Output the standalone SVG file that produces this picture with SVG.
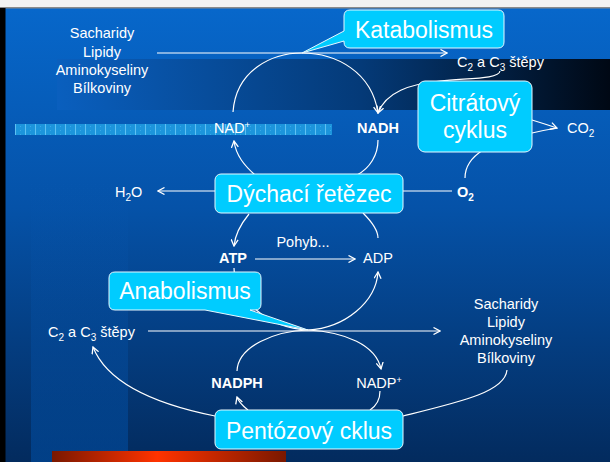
<svg xmlns="http://www.w3.org/2000/svg" width="610" height="462" viewBox="0 0 610 462">
<defs>
<linearGradient id="bg" x1="0" y1="0" x2="0" y2="1">
<stop offset="0" stop-color="#0768cc"/>
<stop offset="0.45" stop-color="#0552a8"/>
<stop offset="1" stop-color="#032b5e"/>
</linearGradient>
<linearGradient id="band" x1="0" y1="0" x2="1" y2="0">
<stop offset="0" stop-color="#0a5fbe"/>
<stop offset="0.55" stop-color="#043a78"/>
<stop offset="1" stop-color="#000814"/>
</linearGradient>
<linearGradient id="col" x1="0" y1="0" x2="0" y2="1">
<stop offset="0" stop-color="#0a5cb8" stop-opacity="0"/>
<stop offset="1" stop-color="#0050a8" stop-opacity="0.55"/>
</linearGradient>
<linearGradient id="red" x1="0" y1="0" x2="1" y2="0">
<stop offset="0" stop-color="#7a1800"/>
<stop offset="0.45" stop-color="#ff3300"/>
<stop offset="1" stop-color="#7a1800"/>
</linearGradient>
<pattern id="chk" x="15" y="0" width="10" height="4" patternUnits="userSpaceOnUse">
<rect width="10" height="4" fill="#1c95dc"/>
<rect width="1" height="4" fill="#5ec0f2"/>
<rect x="5" y="2" width="1" height="1" fill="#3aa8e8"/>
</pattern>
<marker id="ah" viewBox="0 0 8 8" refX="7" refY="4" markerWidth="8" markerHeight="8" markerUnits="userSpaceOnUse" orient="auto">
<path d="M0.5,0.5 L7,4 L0.5,7.5" fill="none" stroke="#ffffff" stroke-width="1.3"/>
</marker>
</defs>
<style>
.t{font-family:"Liberation Sans",Arial,sans-serif;fill:#ffffff;font-size:14.5px}
.b{font-weight:bold}
.m{text-anchor:middle}
.big{font-family:"Liberation Sans",Arial,sans-serif;fill:#ffffff;font-size:23px;text-anchor:middle}
.box{fill:#00ccff;stroke:#e6f8ff;stroke-width:1}
.c{fill:none;stroke:#ffffff;stroke-width:1.2}
.a{marker-end:url(#ah)}
</style>
<g id="background">
<rect x="0" y="0" width="610" height="462" fill="url(#bg)"/>
<rect x="31" y="180" width="97" height="282" fill="url(#col)"/>
<rect x="57" y="59" width="553" height="51" fill="url(#band)"/>
<rect x="15" y="124" width="317" height="11" fill="url(#chk)"/>
<rect x="52" y="451" width="234" height="11" fill="url(#red)"/>
<rect x="0" y="0" width="610" height="7" fill="#f2f2f2"/>
<rect x="0" y="7" width="610" height="1.5" fill="#8a8a8a"/>
<rect x="0" y="8" width="5.5" height="454" fill="#000000"/>
</g>
<g id="connectors">
<path class="c a" d="M157,53 H447"/>
<path class="c a" d="M233,112 C236,70 272,53 302,53 C336,53 372,72 378,113"/>
<path class="c a" d="M500,71 C499,79 470,78 440,81 C410,84 386,92 378,113"/>
<path class="c a" d="M532,120 Q545,124 557,128"/>
<path class="c" d="M532,133 Q545,130 557,128"/>
<path class="c" d="M378,140 C378,155 370,168 357,175"/>
<path class="c a" d="M255,175 C245,166 236,156 234,141"/>
<path class="c a" d="M215,191 H158"/>
<path class="c" d="M452,191 H403"/>
<path class="c" d="M465,178 C465,166 472,157 483,150"/>
<path class="c a" d="M249,214 C240,225 235,235 234,246"/>
<path class="c" d="M363,213 C372,222 378,230 378,238"/>
<path class="c a" d="M255,259 H355"/>
<path class="c" d="M234,268 C234,296 265,328 308,330"/>
<path class="c a" d="M308,330 C345,328 376,302 378,272"/>
<path class="c a" d="M148,331 H440"/>
<path class="c" d="M237,371 C238,346 275,331 308,330"/>
<path class="c a" d="M308,330 C345,332 376,345 381,369"/>
<path class="c a" d="M248,410 C243,406 239,403 237,397"/>
<path class="c" d="M380,391 C380,400 376,406 370,410"/>
<path class="c a" d="M215,416 C160,405 108,385 93,347"/>
<path class="c" d="M403,416 C460,402 505,392 507,370"/>
</g>
<g id="inputs-top">
<text class="t m" x="102" y="38">Sacharidy</text>
<text class="t m" x="102" y="56.5">Lipidy</text>
<text class="t m" x="102" y="75">Aminokyseliny</text>
<text class="t m" x="102" y="93">Bílkoviny</text>
</g>
<g id="c2c3-top"><text class="t" x="457" y="67">C<tspan font-size="10" dy="4">2</tspan><tspan dy="-4"> a C</tspan><tspan font-size="10" dy="4">3</tspan><tspan dy="-4"> štěpy</tspan></text></g>
<g id="nadplus"><text class="t m" x="232" y="133">NAD<tspan font-size="9" dy="-5">+</tspan></text></g>
<g id="nadh"><text class="t b m" x="378" y="133">NADH</text></g>
<g id="co2"><text class="t" x="567" y="133">CO<tspan font-size="10" dy="4">2</tspan></text></g>
<g id="h2o"><text class="t" x="115" y="197">H<tspan font-size="10" dy="4">2</tspan><tspan dy="-4">O</tspan></text></g>
<g id="o2"><text class="t b" x="457" y="197">O<tspan font-size="10" dy="4">2</tspan></text></g>
<g id="atp"><text class="t b m" x="233" y="263">ATP</text></g>
<g id="adp"><text class="t m" x="378" y="263">ADP</text></g>
<g id="pohyb"><text class="t m" x="303" y="247">Pohyb...</text></g>
<g id="c2c3-left"><text class="t" x="48" y="337">C<tspan font-size="10" dy="4">2</tspan><tspan dy="-4"> a C</tspan><tspan font-size="10" dy="4">3</tspan><tspan dy="-4"> štěpy</tspan></text></g>
<g id="outputs-right">
<text class="t m" x="506" y="309">Sacharidy</text>
<text class="t m" x="506" y="327">Lipidy</text>
<text class="t m" x="506" y="345">Aminokyseliny</text>
<text class="t m" x="506" y="363">Bílkoviny</text>
</g>
<g id="nadph"><text class="t b m" x="237" y="388">NADPH</text></g>
<g id="nadpplus"><text class="t m" x="379" y="388">NADP<tspan font-size="9" dy="-5">+</tspan></text></g>
<g id="katabolismus">
<path class="box" d="M350,10 H498 Q504,10 504,16 V42 Q504,48 498,48 H350 Q344,48 344,42 V41 L302,53 L344,31 V16 Q344,10 350,10 Z"/>
<text class="big" x="424" y="37.5">Katabolismus</text>
</g>
<g id="citratovy-cyklus">
<rect class="box" x="418" y="81" width="114" height="71" rx="7"/>
<text class="big" x="475" y="110.5">Citrátový</text>
<text class="big" x="475" y="138">cyklus</text>
</g>
<g id="dychaci-retezec">
<rect class="box" x="215" y="174" width="188" height="39" rx="6"/>
<text class="big" x="309" y="202">Dýchací řetězec</text>
</g>
<g id="anabolismus">
<path class="box" d="M115,272 H255 Q261,272 261,278 V304 Q261,310 255,310 H250 L308,330 L205,310 H115 Q109,310 109,304 V278 Q109,272 115,272 Z"/>
<text class="big" x="185" y="299">Anabolismus</text>
</g>
<g id="pentozovy-cklus">
<rect class="box" x="215" y="410" width="188" height="39" rx="6"/>
<text class="big" x="309" y="439">Pentózový cklus</text>
</g>
</svg>
